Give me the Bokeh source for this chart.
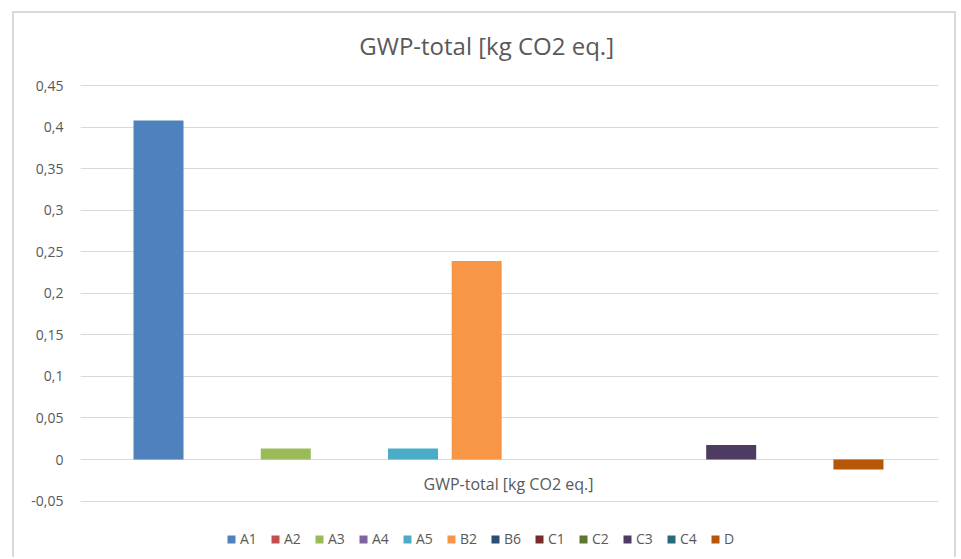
import numpy as np
from bokeh.plotting import figure
from bokeh.models import (ColumnDataSource, Range1d, FixedTicker, CustomJSTickFormatter, Label)
from bokeh.embed import file_html
from bokeh.resources import INLINE

# ---- data ----
title_text = "GWP-total [kg CO2 eq.]"
category = "GWP-total [kg CO2 eq.]"
series = ["A1", "A2", "A3", "A4", "A5", "B2", "B6", "C1", "C2", "C3", "C4", "D"]
values = [0.408, 0.0, 0.0132, 0.0, 0.0132, 0.239, 0.0, 0.0, 0.0, 0.0176, 0.0, -0.012]
colors = ["#4F81BD", "#C0504D", "#9BBB59", "#8064A2", "#4BACC6", "#F79646",
          "#2C4D75", "#772C2A", "#5F7530", "#4D3B62", "#276A7C", "#B65708"]
y_ticks = [-0.05, 0, 0.05, 0.1, 0.15, 0.2, 0.25, 0.3, 0.35, 0.4, 0.45]

FONT = "Open Sans"
TXT = "#595959"
GRID = "#d9d9d9"

src = ColumnDataSource(dict(x=np.arange(len(series)), top=values, series=series, color=colors))

p = figure(width=944, height=546, output_backend="svg", toolbar_location=None,
           x_axis_location=None, min_border_left=66, min_border_right=20,
           min_border_top=0, min_border_bottom=0,
           margin=(11, 0, 0, 12),
           styles={"border-left": f"2px solid {GRID}", "border-top": f"2px solid {GRID}",
                   "border-right": f"2px solid {GRID}"},
           x_range=Range1d(-1.226, 12.258), y_range=Range1d(-0.1203, 0.5367))
p.outline_line_color = None
p.background_fill_color = "white"
p.border_fill_color = "white"

p.vbar(x="x", top="top", bottom=0, width=0.786, source=src, fill_color="color",
       line_color=None, legend_field="series")

p.xgrid.visible = False
p.ygrid.grid_line_color = GRID
p.ygrid.grid_line_width = 1.2
p.yaxis.ticker = FixedTicker(ticks=y_ticks)
p.yaxis.formatter = CustomJSTickFormatter(
    code="return (Math.round(tick*100)/100).toString().replace('.', ',');")
p.yaxis.axis_line_color = None
p.yaxis.major_tick_line_color = None
p.yaxis.minor_tick_line_color = None
p.yaxis.major_tick_out = 0
p.yaxis.major_tick_in = 0
p.yaxis.major_label_standoff = 17
p.yaxis.major_label_text_font = FONT
p.yaxis.major_label_text_font_size = "14px"
p.yaxis.major_label_text_color = TXT

p.add_layout(Label(x=5.157, y=0.498, text=title_text, text_align="center",
                   text_baseline="middle", text_font=FONT, text_font_size="24px",
                   text_color=TXT))
p.add_layout(Label(x=5.5, y=-0.030, text=category, text_align="center",
                   text_baseline="middle", text_font=FONT, text_font_size="16px",
                   text_color=TXT))

lg = p.legend[0]
lg.orientation = "horizontal"
lg.location = (146, 11)
lg.border_line_color = None
lg.background_fill_alpha = 0
lg.padding = 0
lg.margin = 0
lg.spacing = 10
lg.glyph_width = 10
lg.glyph_height = 10
lg.label_standoff = 4
lg.label_height = 14
lg.label_text_font = FONT
lg.label_text_font_size = "14px"
lg.label_text_color = TXT

open("out.html", "w").write(file_html(p, INLINE))
